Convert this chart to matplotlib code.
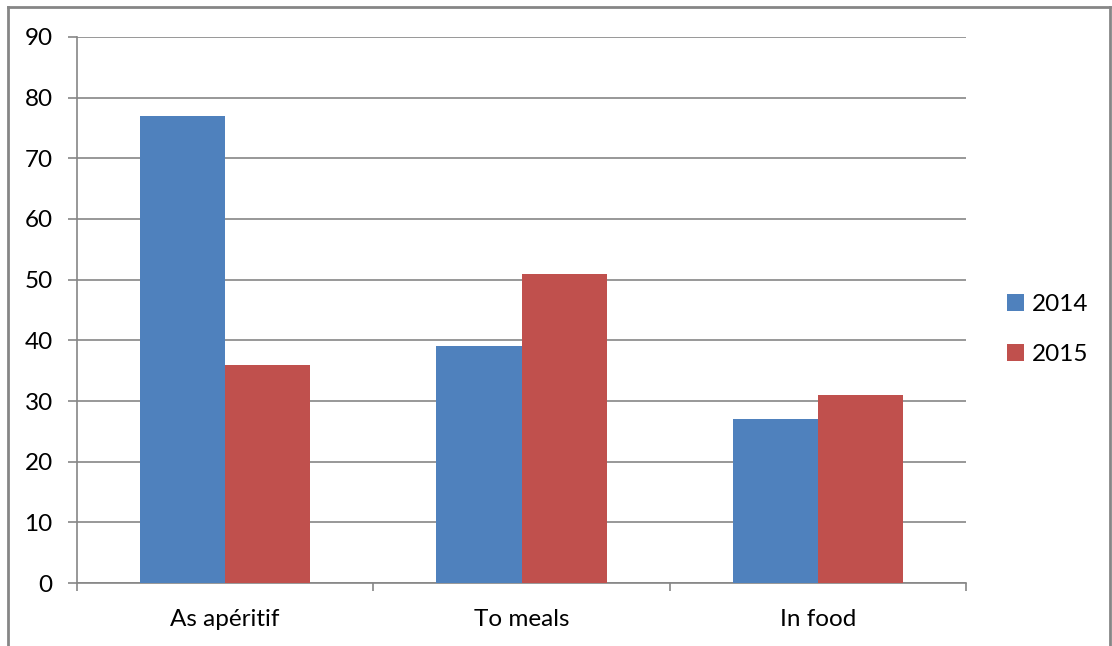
import numpy as np
import matplotlib.pyplot as plt
from matplotlib.lines import Line2D

plt.rcParams['font.family'] = ['Lato', 'DejaVu Sans']

categorias = ["As apéritif", "To meals", "In food"]
anos = ["2014", "2015"]
valores_2014 = [77, 39, 27]
valores_2015 = [36, 51, 31]
cores = ["#4F81BD", "#C0504D"]
cinza = "#868686"

fig = plt.figure(figsize=(11.12, 6.46), dpi=100)
ax = fig.add_axes([77/1112, 63/646, (966-77)/1112, (583-37)/646])

x = np.arange(len(categorias))
larg = 0.287
ax.bar(x - larg/2, valores_2014, larg, color=cores[0], label=anos[0], zorder=3)
ax.bar(x + larg/2, valores_2015, larg, color=cores[1], label=anos[1], zorder=3)

ax.set_xlim(-0.5, 2.5)
ax.set_ylim(0, 90)
ax.set_yticks(range(0, 91, 10))
ax.yaxis.grid(True, color=cinza, linewidth=1.2, zorder=0)

ax.set_xticks(x)
ax.set_xticklabels(categorias)
ax.set_xticks(np.arange(-0.5, 3, 1), minor=True)
ax.tick_params(axis='x', which='major', length=0, pad=19, labelsize=17.5)
ax.tick_params(axis='x', which='minor', length=6, width=1.2, color=cinza, direction='out')
ax.tick_params(axis='y', length=6.5, width=1.2, color=cinza, pad=11, labelsize=17.5)

for s in ['top', 'right']:
    ax.spines[s].set_visible(False)
for s in ['left', 'bottom']:
    ax.spines[s].set_color(cinza)
    ax.spines[s].set_linewidth(1.2)

leg = ax.legend(loc='center left', bbox_to_anchor=(1.022, 0.464), frameon=False,
                fontsize=17.5, handlelength=0.7, handleheight=0.7,
                handletextpad=0.3, labelspacing=1.2)

# moldura externa (sem borda inferior)
W, H = 1112, 646
topo = H - 6.5
for xs, ys in [([7.5, 7.5], [0, topo]), ([7.5, 1110], [topo, topo]), ([1110, 1110], [topo, 0])]:
    fig.add_artist(Line2D([v / W for v in xs], [v / H for v in ys],
                          transform=fig.transFigure, color=cinza, linewidth=2))

plt.savefig("out.png", dpi=100)
